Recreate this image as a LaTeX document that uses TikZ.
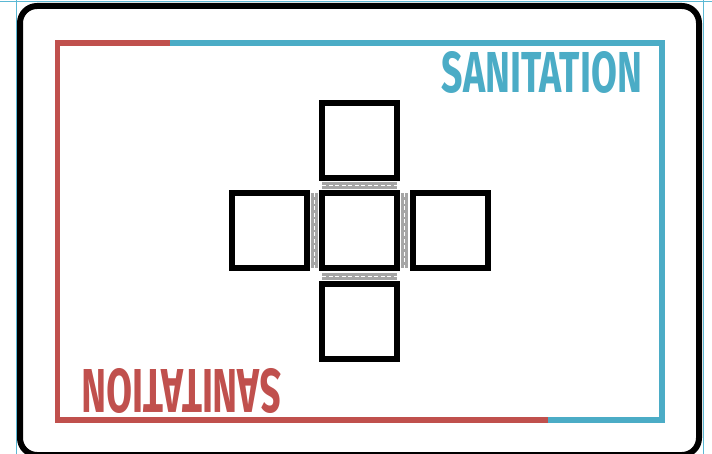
\documentclass[tikz,border=0pt]{standalone}
\usepackage{fontspec}
\usepackage{graphicx}
\usetikzlibrary{positioning,calc}
\newfontfamily\signfont{Fira Sans}
\definecolor{ink}{HTML}{000000}
\definecolor{signred}{HTML}{C0504D}
\definecolor{signblue}{HTML}{4BACC6}
\definecolor{guide}{HTML}{5BB8D4}
\definecolor{jointgray}{HTML}{A6A6A6}
\tikzset{
  card/.style={draw=ink,line width=6pt,rounded corners=17pt,fill=white},
  guideline/.style={draw=guide,line width=1pt},
  frame/.style={line width=5.5pt,line join=miter},
  tile/.style={draw=ink,line width=6pt,minimum size=75pt,inner sep=0pt,outer sep=0pt,fill=white},
  joint/.style={draw=jointgray,line width=7pt,
    postaction={draw=white,line width=1.3pt,dash pattern=on 4pt off 2.5pt}},
  sign/.style={inner sep=0pt,font=\signfont\bfseries},
}
\newcommand{\signtext}[2]{\resizebox{#1}{#2}{SANITATION}}

\begin{document}
\begin{tikzpicture}[x=1pt,y=-1pt]
  \useasboundingbox (0,0) rectangle (712,454);
  \clip (0,0) rectangle (712,454);
  \fill[white] (0,0) rectangle (712,454);
  % guides and card
  \draw[guideline] (0,1.5) -- (712,1.5);
  \draw[guideline] (16,0) -- (16,454);
  \draw[guideline] (703.5,0) -- (703.5,454);
  \draw[card] (20,6) rectangle (699,455);
  % two-colour frame
  \coordinate (split top) at (170,43);
  \coordinate (split bottom) at (548,420);
  \draw[frame,signred] (split top) -- (57.5,43) -- (57.5,420) -- (split bottom);
  \draw[frame,signblue] (split top) -- (662,43) -- (662,420) -- (split bottom);
  \node[sign,text=signblue] (title) at (542,72.5) {\signtext{200pt}{41pt}};
  \node[sign,text=signred,rotate=180] (title flipped) at (181.5,390.5) {\signtext{199pt}{44pt}};
  % tiles
  \node[tile] (centre) at (359.5,231) {};
  \node[tile,above=15.5pt of centre] (top) {};
  \node[tile,below=15.5pt of centre] (bottom) {};
  \node[tile,left=15.5pt of centre] (left) {};
  \node[tile,right=15.5pt of centre] (right) {};
  \draw[joint] ($(top.south west)!.5!(centre.north west)$) -- ($(top.south east)!.5!(centre.north east)$);
  \draw[joint] ($(bottom.north west)!.5!(centre.south west)$) -- ($(bottom.north east)!.5!(centre.south east)$);
  \draw[joint] ($(left.north east)!.5!(centre.north west)$) -- ($(left.south east)!.5!(centre.south west)$);
  \draw[joint] ($(right.north west)!.5!(centre.north east)$) -- ($(right.south west)!.5!(centre.south east)$);
\end{tikzpicture}
\end{document}
